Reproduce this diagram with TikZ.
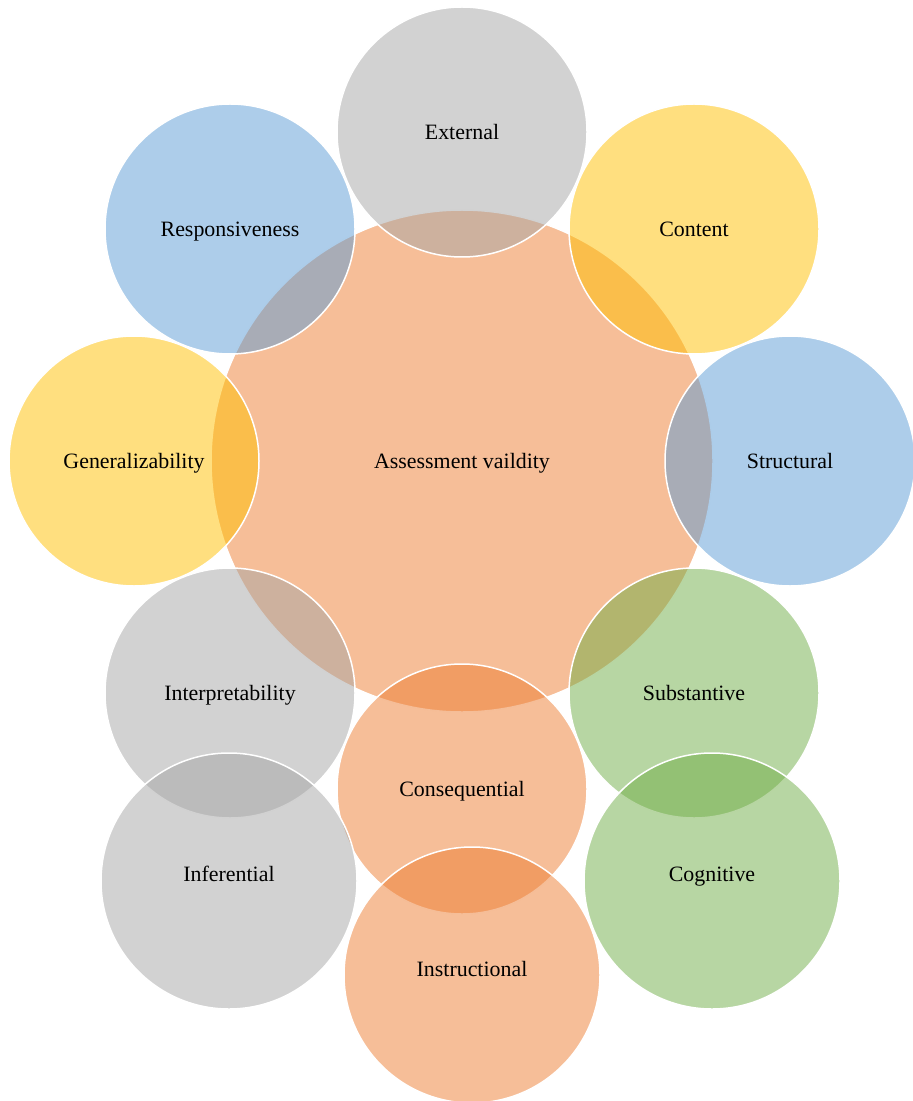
\documentclass[tikz,border=0pt]{standalone}
\usepackage{fontspec}
\setmainfont{Liberation Serif}
\definecolor{cOrange}{HTML}{ED7D31}
\definecolor{cGray}{HTML}{A5A5A5}
\definecolor{cBlue}{HTML}{5B9BD5}
\definecolor{cYellow}{HTML}{FFC000}
\definecolor{cGreen}{HTML}{70AD47}
\tikzset{
  labelfont/.style={font=\fontsize{10.95}{13}\selectfont, text height=0.78em, text depth=0pt},
  disc/.style={circle, inner sep=0pt, outer sep=0pt, draw=white, line width=0.75pt,
    fill=#1, fill opacity=0.5, text opacity=1, text=black, labelfont},
  hub/.style={disc=cOrange, minimum size=251pt},
  petal/.style={disc=#1, minimum size=125pt},
  bigpetal/.style={disc=#1, minimum size=128pt},
  caption/.style={inner sep=0pt, text=black, labelfont}
}
\begin{document}
\begin{tikzpicture}[x=0.5pt, y=-0.5pt]
  \useasboundingbox (0,0) rectangle (913,1101);
  % central concept
  \node[hub] (hub) at (462,461) {Assessment vaildity};
  % surrounding facets
  \node[petal=cGray]   (ext)  at (462,132) {External};
  \node[petal=cYellow] (cont) at (694,229) {Content};
  \node[petal=cBlue]   (str)  at (790,461) {Structural};
  \node[petal=cGreen]  (sub)  at (694,693) {Substantive};
  \node[petal=cBlue]   (resp) at (230,229) {Responsiveness};
  \node[petal=cYellow] (gen)  at (134,461) {Generalizability};
  \node[petal=cGray]   (intp) at (230,693) {Interpretability};
  \node[petal=cOrange] (cons) at (462,789) {Consequential};
  % lower, slightly larger facets
  \node[bigpetal=cGray]   (inf)  at (229,881) {};
  \node[bigpetal=cGreen]  (cog)  at (712,881) {};
  \node[bigpetal=cOrange] (inst) at (472,975) {};
  \node[caption] (infT)  at (229,874) {Inferential};
  \node[caption] (cogT)  at (712,874) {Cognitive};
  \node[caption] (instT) at (472,969) {Instructional};
\end{tikzpicture}
\end{document}
